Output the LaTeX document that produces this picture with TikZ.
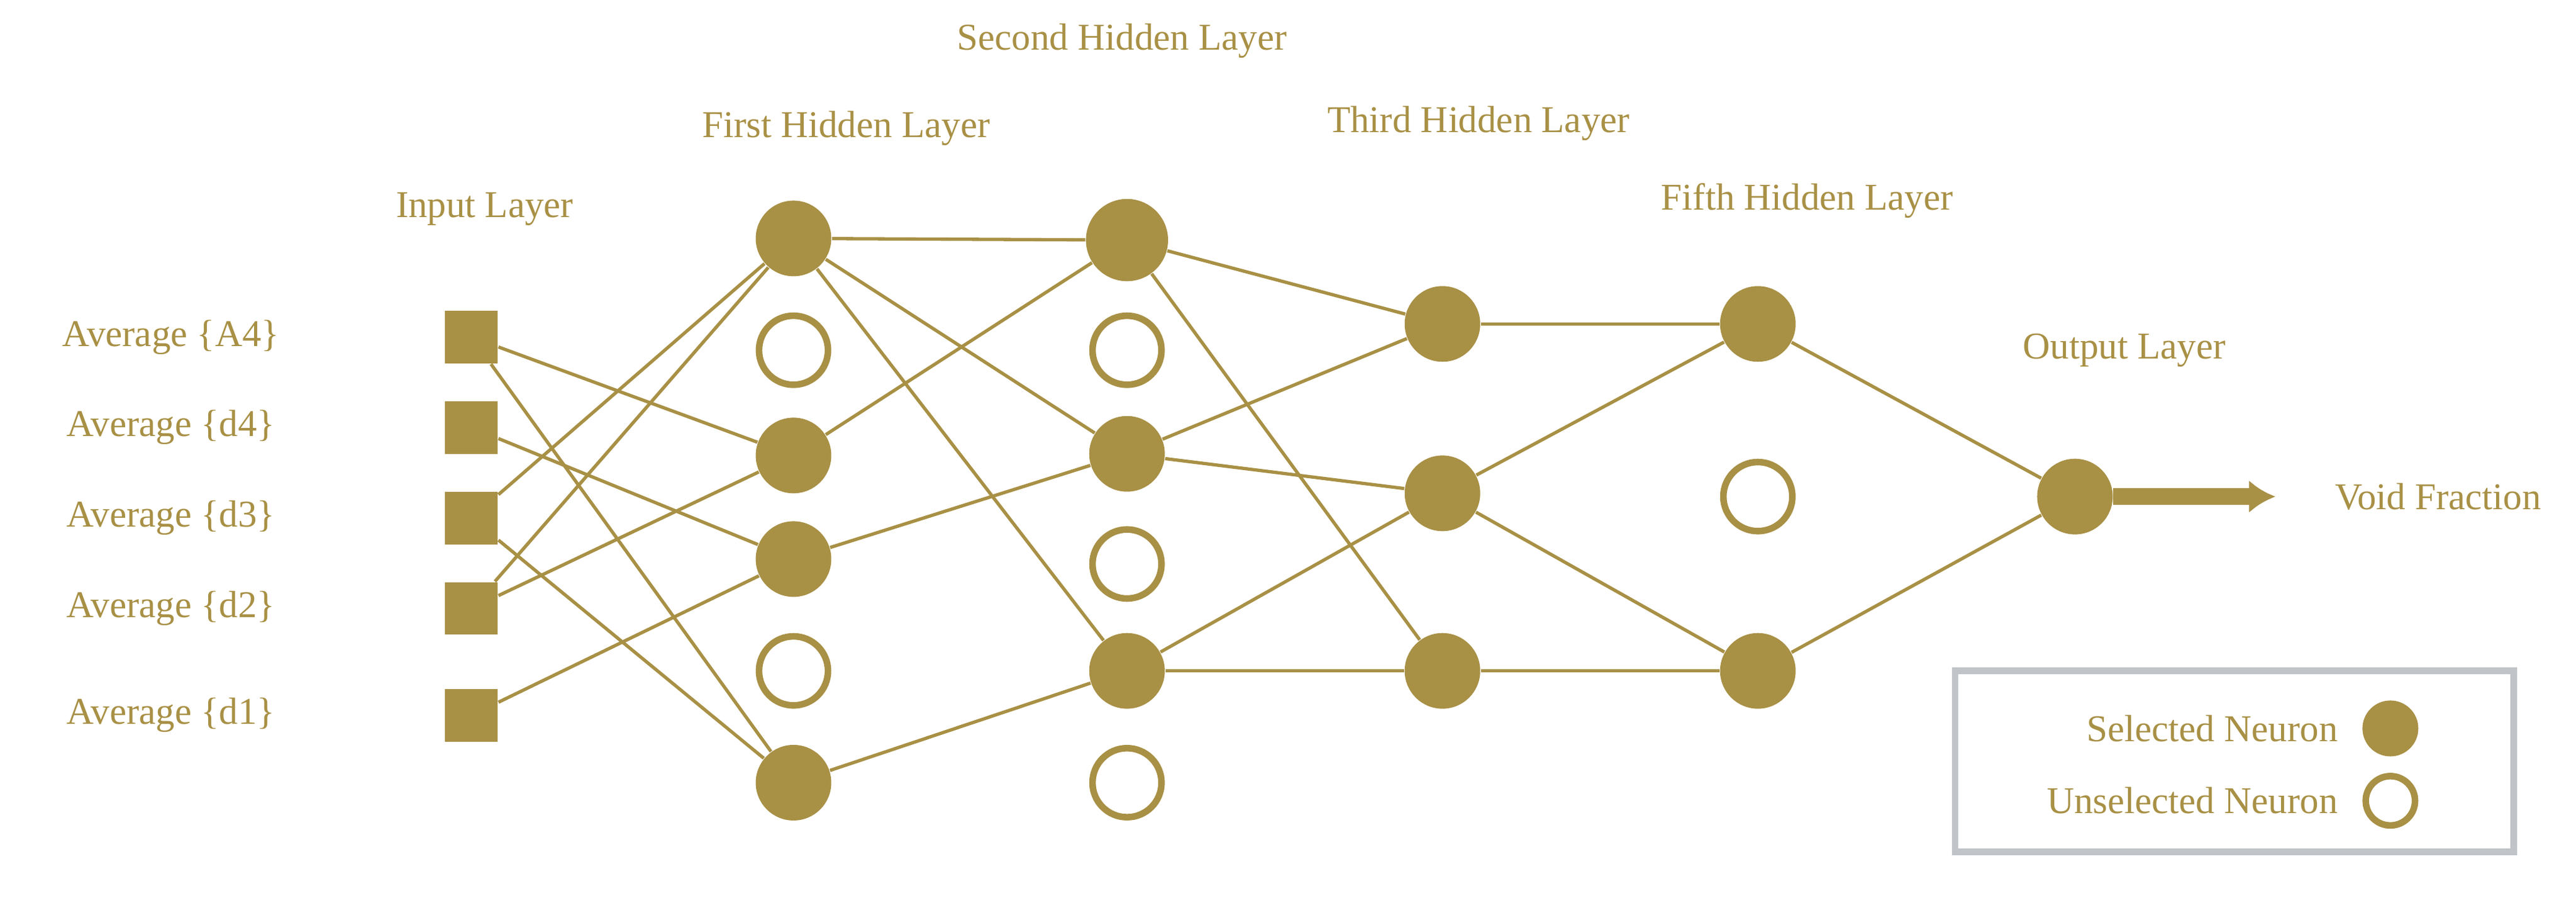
\documentclass[tikz,border=0pt]{standalone}
\usepackage{fontspec}
\setmainfont{Liberation Serif}
\usetikzlibrary{arrows.meta}
\definecolor{gold}{HTML}{A89045}
\definecolor{boxgray}{HTML}{C0C4C8}
\begin{document}
\begin{tikzpicture}[x=0.5pt,y=-0.5pt,
  sel/.style={circle,fill=gold,minimum size=23pt,inner sep=0},
  unsel/.style={circle,draw=gold,line width=2pt,minimum size=21pt,inner sep=0},
  inp/.style={rectangle,fill=gold,minimum size=16pt,inner sep=0},
  lbl/.style={text=gold,font=\fontsize{11.5}{13}\selectfont},
  conn/.style={draw=gold,line width=1pt}]
\useasboundingbox (0,0) rectangle (1568,552);
% input
\foreach \n/\y/\t in {a/205/A4,b/260/d4,c/315/d3,d/370/d2,e/435/d1}{
  \node[inp] (i\n) at (287,\y) {};
  \node[lbl] (l\n) at (104,\y) {Average \{\t\}};
}
% hidden 1
\node[sel] (h1a) at (483,145) {};
\node[unsel] (h1b) at (483,213) {};
\node[sel] (h1c) at (483,277) {};
\node[sel] (h1d) at (483,340) {};
\node[unsel] (h1e) at (483,408) {};
\node[sel] (h1f) at (483,476) {};
% hidden 2
\node[sel,minimum size=25pt] (h2a) at (686,146) {};
\node[unsel] (h2u1) at (686,213) {};
\node[sel] (h2b) at (686,276) {};
\node[unsel] (h2u2) at (686,343) {};
\node[sel] (h2c) at (686,408) {};
\node[unsel] (h2u3) at (686,476) {};
% hidden 3
\node[sel] (h3a) at (878,197) {};
\node[sel] (h3b) at (878,300) {};
\node[sel] (h3c) at (878,408) {};
% hidden 5
\node[sel] (h5a) at (1070,197) {};
\node[unsel] (h5u) at (1070,302) {};
\node[sel] (h5c) at (1070,408) {};
% output
\node[sel] (o) at (1263,302) {};
\coordinate (oend) at (1385,302);
\draw[gold,line width=5pt,-{Latex[length=8pt,width=10pt]}] (o) -- (oend);
% labels
\node[lbl] (t0) at (295,127) {Input Layer};
\node[lbl] (t1) at (515,78) {First Hidden Layer};
\node[lbl] (t2) at (683,25) {Second Hidden Layer};
\node[lbl] (t3) at (900,75) {Third Hidden Layer};
\node[lbl] (t5) at (1100,122) {Fifth Hidden Layer};
\node[lbl] (to) at (1293,213) {Output Layer};
\node[lbl] (tv) at (1484,302) {Void Fraction};
% connections
\foreach \a/\b in {ia/h1c,ia/h1f,ib/h1d,ic/h1a,ic/h1f,id/h1a,id/h1c,ie/h1d,
  h1a/h2a,h1a/h2b,h1a/h2c,h1c/h2a,h1d/h2b,h1f/h2c,
  h2a/h3a,h2a/h3c,h2b/h3a,h2b/h3b,h2c/h3b,h2c/h3c,
  h3a/h5a,h3b/h5a,h3b/h5c,h3c/h5c,h5a/o,h5c/o}
  \draw[conn] (\a) -- (\b);
% legend
\node[draw=boxgray,line width=2pt,minimum width=170pt,minimum height=55pt] (leg) at (1360,463) {};
\node[lbl,anchor=east] (ls) at (1430,443) {Selected Neuron};
\node[sel,minimum size=17pt] (lsc) at (1455,443) {};
\node[lbl,anchor=east] (lu) at (1430,487) {Unselected Neuron};
\node[unsel,minimum size=15pt] (luc) at (1455,487) {};
\end{tikzpicture}
\end{document}
